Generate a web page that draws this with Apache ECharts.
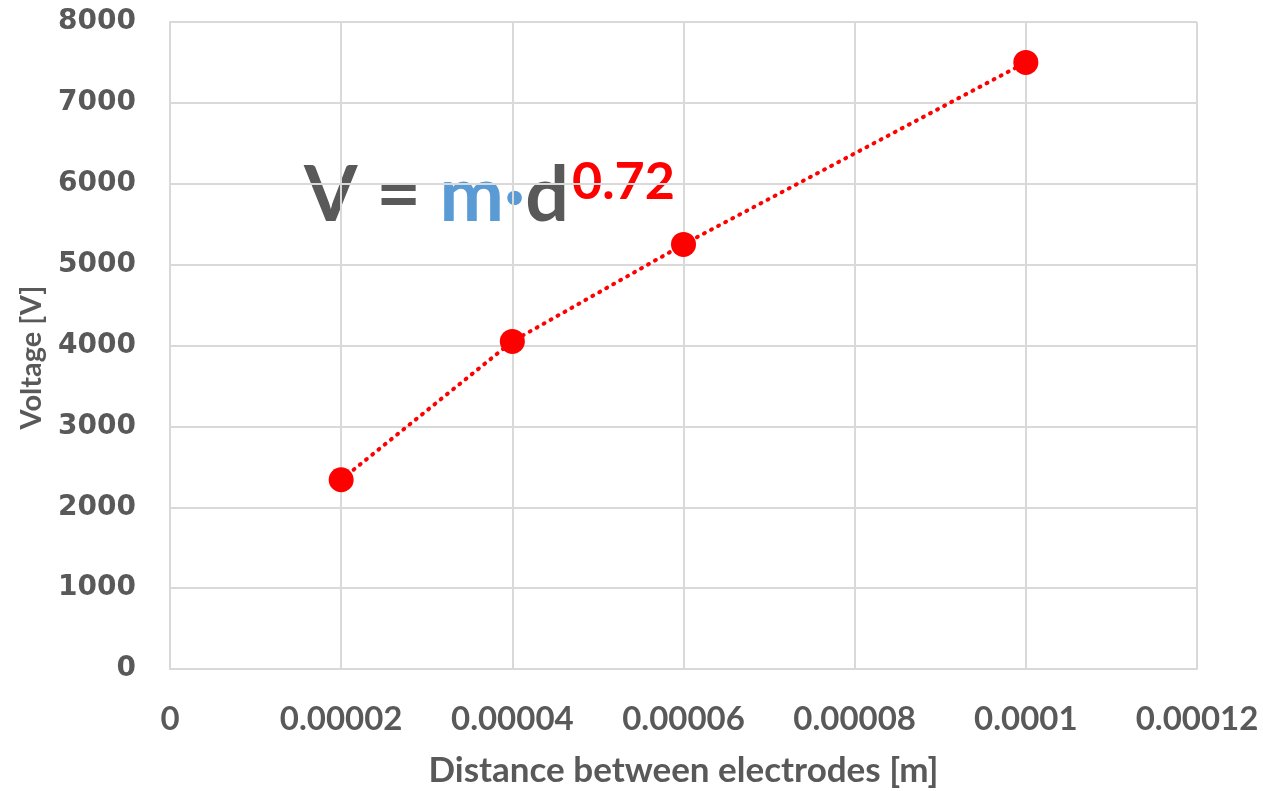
<!DOCTYPE html>
<html><head><meta charset="utf-8">
<script src="https://cdn.jsdelivr.net/npm/echarts@6/dist/echarts.min.js"></script>
<style>html,body{margin:0;padding:0;background:#fff}#c{width:1263px;height:791px}</style>
</head><body><div id="c"></div>
<script>
const distances = [0.00002, 0.00004, 0.00006, 0.0001];
const voltages = [2340, 4050, 5250, 7500];
const xTickLabels = ['0', '0.00002', '0.00004', '0.00006', '0.00008', '0.0001', '0.00012'];
const yTickLabels = ['0', '1000', '2000', '3000', '4000', '5000', '6000', '7000', '8000'];
const xTitle = 'Distance between electrodes [m]';
const yTitle = 'Voltage [V]';
const eqMain = 'V = ';
const eqM = 'm·';
const eqD = 'd';
const eqExp = '0.72';

const gray = '#595959';
const narrow = 'Lato, sans-serif';
const chart = echarts.init(document.getElementById('c'));
const points = distances.map((d, i) => [d, voltages[i]]);
chart.setOption({
  animation: false,
  grid: { left: 170, right: 66, top: 22, bottom: 122, containLabel: false, outerBoundsMode: 'none' },
  xAxis: {
    type: 'value', min: 0, max: 0.00012, interval: 0.00002,
    name: xTitle, nameLocation: 'middle', nameGap: 84,
    nameTextStyle: { fontFamily: narrow, fontWeight: 'bold', fontSize: 35, color: gray },
    axisLine: { show: true, lineStyle: { color: '#d9d9d9', width: 2 } },
    axisTick: { show: false },
    splitLine: { show: true, lineStyle: { color: '#d9d9d9', width: 2 } },
    axisLabel: {
      margin: 34, fontFamily: narrow, fontWeight: 'bold', fontSize: 33, color: gray,
      formatter: v => xTickLabels[Math.round(v / 0.00002)]
    }
  },
  yAxis: {
    type: 'value', min: 0, max: 8000, interval: 1000,
    name: yTitle, nameLocation: 'middle', nameGap: 124, nameRotate: 90,
    nameTextStyle: { fontFamily: narrow, fontWeight: 'bold', fontSize: 29, color: gray, padding: [0, 24, 0, 0] },
    axisLine: { show: true, lineStyle: { color: '#d9d9d9', width: 2 } },
    axisTick: { show: false },
    splitLine: { show: true, lineStyle: { color: '#d9d9d9', width: 2 } },
    axisLabel: {
      margin: 34, fontFamily: '"DejaVu Sans", sans-serif', fontWeight: 'bold', fontSize: 28, color: gray,
      formatter: v => yTickLabels[Math.round(v / 1000)]
    }
  },
  series: [{
    type: 'line',
    data: points,
    symbol: 'circle', symbolSize: 25,
    itemStyle: { color: '#ff0000' },
    lineStyle: { color: '#ff0000', width: 4, type: [1, 7], cap: 'round' },
    z: 3
  }],
  graphic: [
    {
      type: 'text', left: 304, top: 158,
      style: {
        text: '{a|' + eqMain + '}{b|' + eqM + '}{a|' + eqD + '}',
        rich: {
          a: { fontFamily: narrow, fontWeight: 'bold', fontSize: 77, fill: gray, color: gray },
          b: { fontFamily: narrow, fontWeight: 'bold', fontSize: 77, fill: '#5b9bd5', color: '#5b9bd5' }
        }
      }
    },
    {
      type: 'text', left: 572, top: 156,
      style: { text: eqExp, fontFamily: narrow, fontWeight: 'bold', fontSize: 52, fill: '#ff0000' }
    }
  ]
});
</script></body></html>
